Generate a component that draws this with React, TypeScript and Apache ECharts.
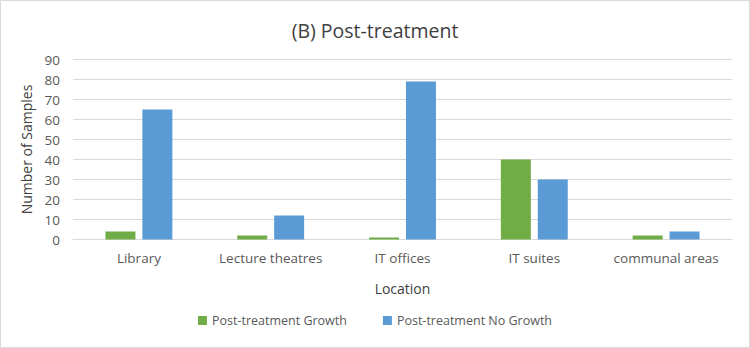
import React, { useEffect, useRef } from "react";
import * as echarts from "echarts";

const categories = ["Library", "Lecture theatres", "IT offices", "IT suites", "communal areas"];
const growth = [4, 2, 1, 40, 2];
const noGrowth = [65, 12, 79, 30, 4];
const seriesNames = ["Post-treatment Growth", "Post-treatment No Growth"];

const FONT = "'Open Sans', 'Liberation Sans', sans-serif";

export default function App() {
  const ref = useRef<HTMLDivElement>(null);

  useEffect(() => {
    if (!ref.current) return;
    const chart = echarts.init(ref.current, undefined, { renderer: "svg" });
    chart.setOption({
      animation: false,
      backgroundColor: "#ffffff",
      textStyle: { fontFamily: FONT },
      title: {
        text: "(B) Post-treatment",
        left: "center",
        top: 15,
        textStyle: { fontFamily: FONT, fontSize: 19.5, fontWeight: "normal", color: "#404040" },
      },
      legend: {
        bottom: 16,
        left: "center",
        itemWidth: 9,
        itemHeight: 9,
        itemGap: 36,
        icon: "rect",
        textStyle: { fontFamily: FONT, fontSize: 12.5, color: "#595959" },
        data: seriesNames,
      },
      grid: { left: 73, right: 18, top: 59.5, bottom: 108.5 },
      xAxis: {
        type: "category",
        data: categories,
        name: "Location",
        nameLocation: "middle",
        nameGap: 42,
        nameTextStyle: { fontFamily: FONT, fontSize: 14, color: "#404040" },
        axisTick: { show: false },
        axisLine: { lineStyle: { color: "#d9d9d9" } },
        axisLabel: {
          interval: 0,
          hideOverlap: false,
          fontFamily: FONT,
          fontSize: 13.5,
          color: "#595959",
          margin: 11,
        },
      },
      yAxis: {
        type: "value",
        min: 0,
        max: 90,
        interval: 10,
        name: "Number of Samples",
        nameLocation: "middle",
        nameGap: 36,
        nameTextStyle: { fontFamily: FONT, fontSize: 14, color: "#404040" },
        axisLine: { show: false },
        axisTick: { show: false },
        axisLabel: { fontFamily: FONT, fontSize: 13.5, color: "#595959", margin: 13 },
        splitLine: { lineStyle: { color: "#d9d9d9" } },
      },
      series: [
        {
          name: seriesNames[0],
          type: "bar",
          data: growth,
          barWidth: 30,
          barGap: "23%",
          itemStyle: { color: "#70ad47" },
        },
        {
          name: seriesNames[1],
          type: "bar",
          data: noGrowth,
          barWidth: 30,
          itemStyle: { color: "#5b9bd5" },
        },
      ],
      graphic: [
        {
          type: "rect",
          shape: { x: 0.5, y: 0.5, width: 749, height: 347 },
          style: { fill: "none", stroke: "#d9d9d9", lineWidth: 1 },
          silent: true,
        },
      ],
    });
    return () => chart.dispose();
  }, []);

  return (
    <div
      ref={ref}
      style={{ position: "absolute", left: 0, top: 0, width: 750, height: 348 }}
    />
  );
}
